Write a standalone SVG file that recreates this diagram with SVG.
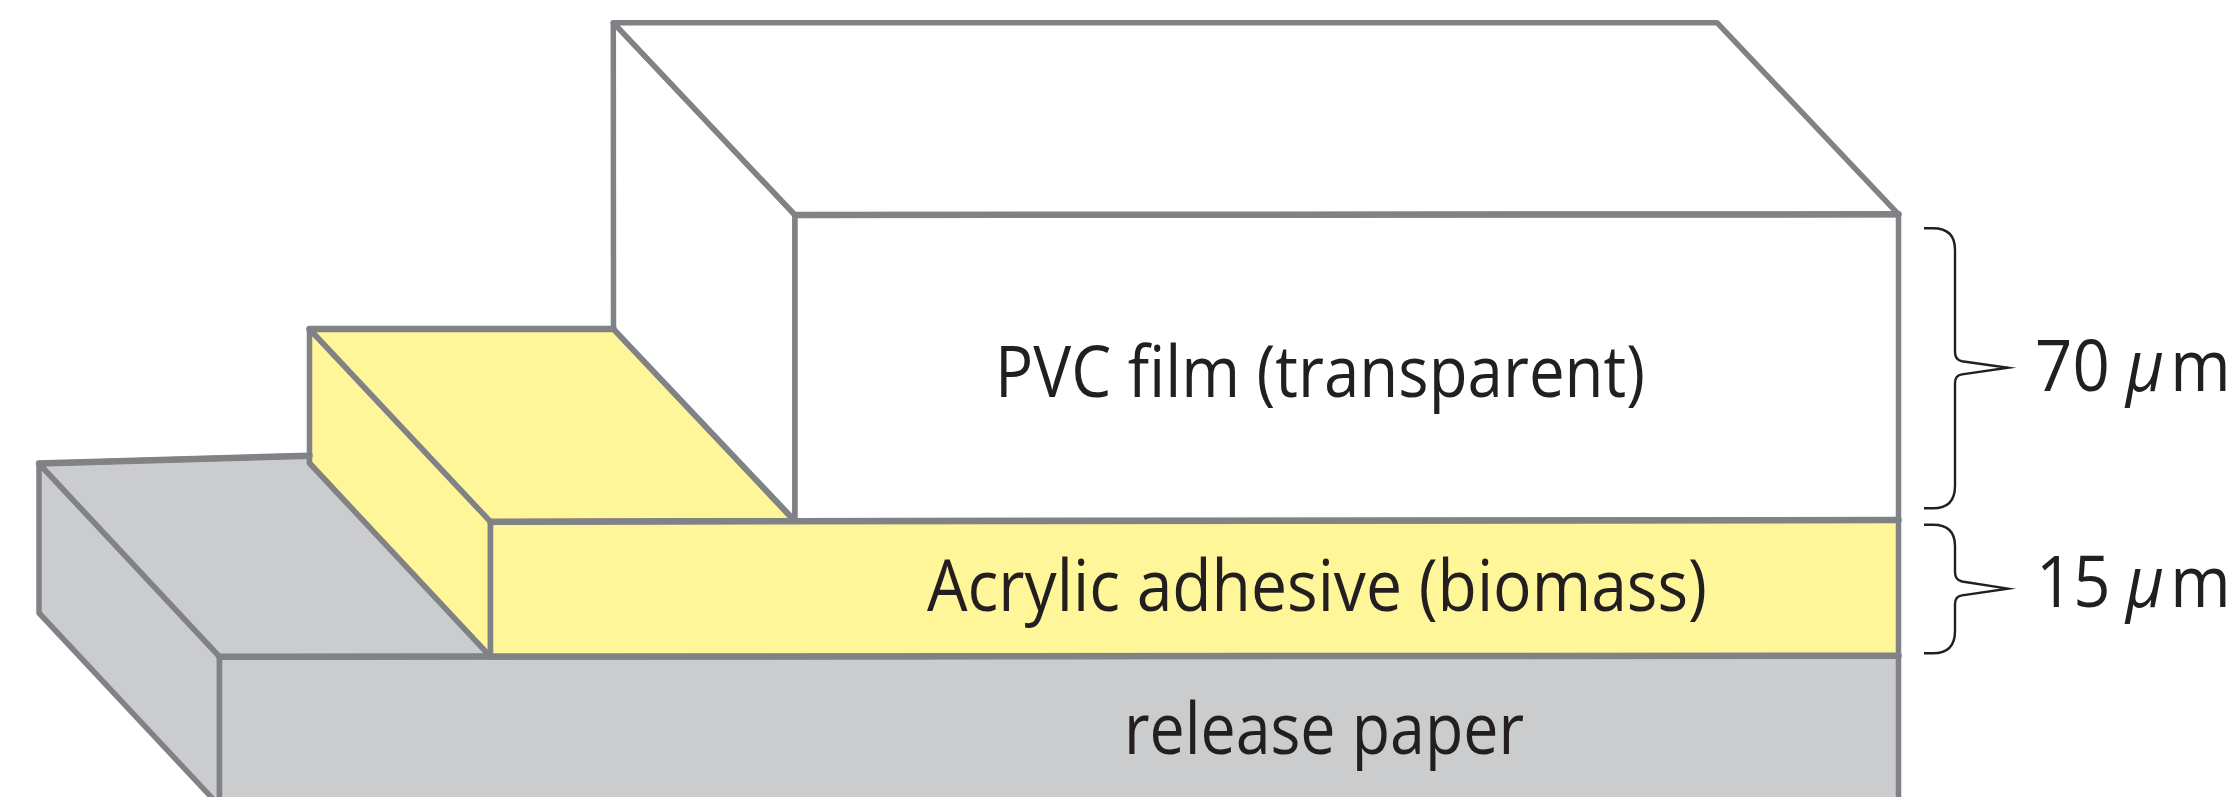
<svg xmlns="http://www.w3.org/2000/svg" width="2236" height="797" viewBox="0 0 2236 797">
<style>
.e{stroke:#808285;stroke-width:5.5;stroke-linejoin:round;stroke-linecap:round}
.t{stroke:#808285;stroke-width:6.5;stroke-linecap:round;fill:none}
.g{fill:#cbccce}
.y{fill:#fff599}
.w{fill:#fff}
.b{fill:none;stroke:#231f20;stroke-width:2.4;stroke-linejoin:miter;stroke-miterlimit:12}
text{font-family:"Open Sans","Noto Sans","Liberation Sans",sans-serif;fill:#231f20;font-size:72px}
.u{font-size:71px}
</style>
<rect width="2236" height="797" fill="#fff"/>
<g id="release-paper">
<polygon class="e g" points="39,463.5 219.5,656.7 219.5,806 39,613"/>
<polygon class="e g" points="39,463.5 309.5,455.7 309.5,463 490.5,656.7 219.5,656.7"/>
<polygon class="e g" points="219.5,656.7 1898.5,655.7 1898.5,810 219.5,810"/>
<text x="1124" y="754.3" textLength="400" lengthAdjust="spacingAndGlyphs">release paper</text>
</g>
<g id="adhesive">
<polygon class="e y" points="309.5,329 490.5,521.7 490.5,656.7 309.5,463"/>
<polygon class="e y" points="309.5,329 613.5,329 794,520.7 490.5,521.7"/>
<polygon class="e y" points="490.5,521.7 1898.5,520 1898.5,655.7 490.5,656.7"/>
<text x="927" y="610.7" textLength="780" lengthAdjust="spacingAndGlyphs">Acrylic adhesive (biomass)</text>
</g>
<g id="pvc-film">
<polygon class="e w" points="613.3,22.7 795,215 795,520.7 613.5,329"/>
<polygon class="e w" points="613.3,22.7 1717,22.7 1898.5,214.3 795,215"/>
<polygon class="e w" points="795,215 1898.5,214.3 1898.5,520 795,520.7"/>
<text x="995" y="397.3" textLength="650" lengthAdjust="spacingAndGlyphs">PVC film (transparent)</text>
</g>
<g id="edges">
<path class="t" d="M309.5 329H613.5M795 215L1898.5 214.3M490.5 521.7L1898.5 520M219.5 656.7L1898.5 655.7M39 463.5L309.5 455.7"/>
</g>
<g id="connectors">
<path class="b" d="M1924 228.3H1933Q1955 228.3 1955 250V352Q1955 360 1962 361.2L2008 367.8L1962 374.4Q1955 375.5 1955 383V486Q1955 508.3 1933 508.3H1924"/>
<path class="b" d="M1924 524.7H1933Q1955 524.7 1955 546V572Q1955 580 1962 581.5L2008 588.6L1962 595.4Q1955 596.5 1955 604V631Q1955 653.3 1933 653.3H1924"/>
</g>
<g id="thickness-labels">
<text class="u" transform="scale(0.92 1)" y="390.7"><tspan x="2212">70</tspan><tspan x="2311" font-style="italic">μ</tspan><tspan x="2359">m</tspan></text>
<text class="u" transform="scale(0.92 1)" y="607.3"><tspan x="2213">15</tspan><tspan x="2311" font-style="italic">μ</tspan><tspan x="2359">m</tspan></text>
</g>
</svg>
